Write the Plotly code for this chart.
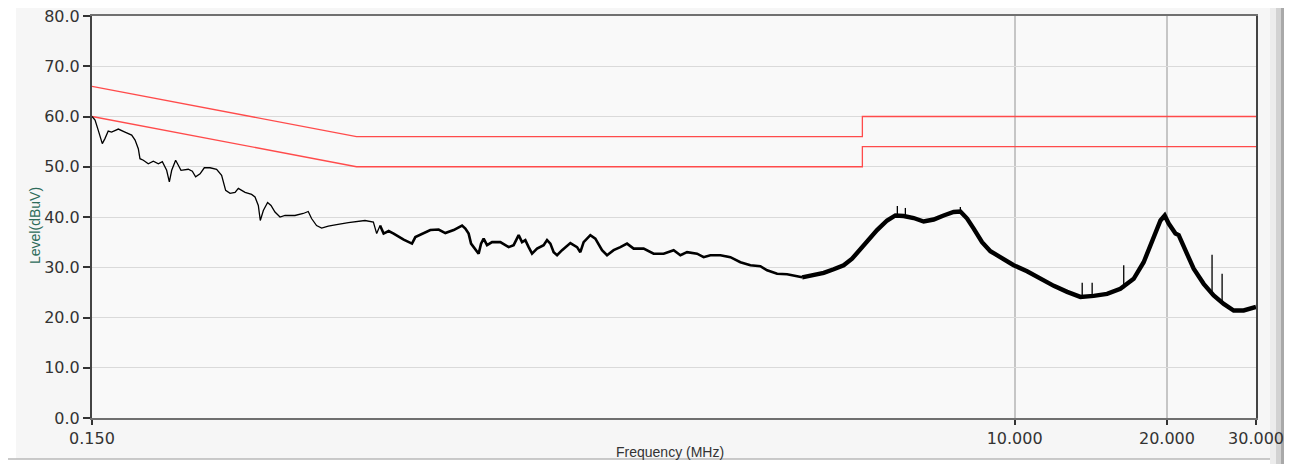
import plotly.graph_objects as go

# ---------------- data ----------------
# measured trace, low band (thin line)
freq_low = [0.150, 0.1521, 0.1543, 0.1572, 0.1591, 0.1615, 0.1640, 0.1691, 0.1743, 0.1797,
            0.1825, 0.1852, 0.1866, 0.1895, 0.1938, 0.1983, 0.2029, 0.2066, 0.2107, 0.2133,
            0.2156, 0.2195, 0.2222, 0.2249, 0.2325, 0.2368, 0.2404, 0.2453, 0.2501, 0.2567,
            0.2645, 0.2706, 0.2756, 0.2812, 0.2877, 0.2920, 0.3011, 0.3102, 0.3150, 0.3198,
            0.3227, 0.3272, 0.3336, 0.3388, 0.3450, 0.3530, 0.3611, 0.3779, 0.3924, 0.4014,
            0.4075, 0.4169, 0.4266, 0.4398, 0.4567, 0.4818, 0.5197, 0.5399, 0.5481, 0.5566]
level_low = [60.0, 59.3, 57.3, 54.6, 55.6, 57.1, 56.9, 57.5, 56.9, 56.3,
             55.3, 53.6, 51.6, 51.3, 50.6, 51.1, 50.6, 51.0, 49.3, 47.0,
             49.3, 51.3, 50.3, 49.3, 49.5, 49.1, 48.0, 48.6, 49.8, 49.8,
             49.5, 48.3, 45.3, 44.7, 44.9, 45.7, 44.9, 44.5, 44.0, 42.3,
             39.3, 41.3, 42.9, 42.3, 41.0, 40.0, 40.3, 40.3, 40.7, 41.1,
             39.7, 38.3, 37.8, 38.2, 38.5, 38.9, 39.3, 39.0, 36.7, 38.3]

# measured trace, mid band (medium line)
freq_mid = [0.5566, 0.5657, 0.5788, 0.5921, 0.6197, 0.6437, 0.6536, 0.6787, 0.6997, 0.7266,
            0.7492, 0.7780, 0.8085, 0.8206, 0.8330, 0.8422, 0.8588, 0.8718, 0.8814, 0.8919,
            0.9058, 0.9266, 0.9623, 0.9993, 1.0224, 1.0459, 1.0622, 1.0782, 1.0947, 1.1117,
            1.1373, 1.1719, 1.1902, 1.2084, 1.2267, 1.2458, 1.2745, 1.3235, 1.3644, 1.3850,
            1.4060, 1.4495, 1.4829, 1.5287, 1.5640, 1.6116, 1.6616, 1.7130, 1.7654, 1.8476,
            1.9338, 2.0236, 2.1180, 2.1839, 2.2513, 2.3563, 2.4280, 2.5035, 2.6201, 2.7416,
            2.8698, 3.0036, 3.1433, 3.2410, 3.3923, 3.5499, 3.7154, 3.8010]
level_mid = [38.3, 36.7, 37.2, 36.7, 35.5, 34.7, 36.0, 36.7, 37.4, 37.5,
             36.8, 37.4, 38.3, 37.7, 36.7, 34.7, 33.7, 32.7, 34.7, 35.7,
             34.4, 35.0, 35.0, 34.0, 34.4, 36.4, 35.0, 35.4, 34.0, 32.7,
             33.7, 34.4, 35.4, 34.7, 33.0, 32.4, 33.4, 34.8, 34.0, 33.0,
             35.0, 36.4, 35.7, 33.4, 32.4, 33.4, 34.0, 34.7, 33.7, 33.7,
             32.7, 32.7, 33.4, 32.4, 33.0, 32.7, 32.0, 32.4, 32.4, 32.0,
             31.0, 30.4, 30.2, 29.4, 28.7, 28.6, 28.2, 28.0]

# measured trace, high band (dense, thick)
freq_high = [3.8010, 4.0065, 4.1934, 4.3880, 4.5920, 4.7707, 4.9545, 5.1455, 5.3456, 5.5954,
             5.8106, 6.0340, 6.3154, 6.6084, 6.9166, 7.2388, 7.5746, 7.8104, 8.0538, 8.2985,
             8.6213, 8.9536, 9.4454, 9.956, 10.58, 11.24, 11.95, 12.70, 13.49, 14.33,
             15.23, 16.18, 17.19, 17.99, 18.70, 19.42, 19.80, 20.16, 20.79, 21.10,
             21.75, 22.59, 23.64, 24.74, 25.90, 27.10, 28.36, 30.0]
level_high = [28.0, 28.4, 28.9, 29.6, 30.4, 31.7, 33.7, 35.7, 37.4, 39.3,
              40.3, 40.2, 39.8, 39.1, 39.5, 40.3, 41.0, 41.1, 39.7, 37.7,
              35.0, 33.2, 31.7, 30.4, 29.2, 27.7, 26.3, 25.1, 24.1, 24.3,
              24.7, 25.7, 27.7, 31.0, 35.0, 39.3, 40.3, 38.7, 36.7, 36.4,
              33.4, 29.7, 26.7, 24.4, 22.7, 21.4, 21.4, 22.1]

# narrow spikes on top of the trace
spike_freq = [5.863, 6.081, 7.81, 13.60, 14.23, 16.43, 24.56, 25.71]
spike_base = [40.2, 40.2, 41.0, 24.2, 24.3, 25.8, 24.6, 23.0]
spike_top = [42.2, 41.8, 42.0, 26.9, 26.9, 30.4, 32.5, 28.7]

# limit lines
limit_freq = [0.15, 0.5, 5.0, 5.0, 30.0]
limit_qp = [66.0, 56.0, 56.0, 60.0, 60.0]
limit_av = [60.0, 50.0, 50.0, 54.0, 54.0]

x_tickvals = [0.15, 10, 20, 30]
x_ticktext = ["0.150", "10.000", "20.000", "30.000"]
y_tickvals = [0, 10, 20, 30, 40, 50, 60, 70, 80]

# ---------------- figure ----------------
fig = go.Figure()

red = "#ff4b4b"
fig.add_trace(go.Scatter(x=limit_freq, y=limit_qp, mode="lines",
                         line=dict(color=red, width=1.3), hoverinfo="skip"))
fig.add_trace(go.Scatter(x=limit_freq, y=limit_av, mode="lines",
                         line=dict(color=red, width=1.3), hoverinfo="skip"))

fig.add_trace(go.Scatter(x=freq_low, y=level_low, mode="lines",
                         line=dict(color="#000000", width=1.3)))
fig.add_trace(go.Scatter(x=freq_mid, y=level_mid, mode="lines",
                         line=dict(color="#000000", width=2.6)))
fig.add_trace(go.Scatter(x=freq_high, y=level_high, mode="lines",
                         line=dict(color="#000000", width=4.4)))

sx, sy = [], []
for f, b, t in zip(spike_freq, spike_base, spike_top):
    sx += [f, f, None]
    sy += [b, t, None]
fig.add_trace(go.Scatter(x=sx, y=sy, mode="lines",
                         line=dict(color="#000000", width=1.3)))

# page body has an 8px offset; plot area on screen: x 92..1256, y 16..418
OFF = 8
W, H = 1292, 464
L, R, T, B = 84, 44, 8, 54
pw, ph = W - L - R, H - T - B


def px(sxp):
    return (sxp - OFF - L) / pw


def py(syp):
    return (H - B - (syp - OFF)) / ph


shapes = [
    # white left strip
    dict(type="rect", xref="paper", yref="paper", x0=px(0), x1=px(16), y0=py(0), y1=py(480),
         fillcolor="#ffffff", line=dict(width=0), layer="below"),
    # bottom border line + white strip
    dict(type="rect", xref="paper", yref="paper", x0=px(0), x1=px(1300), y0=py(459), y1=py(480),
         fillcolor="#ffffff", line=dict(width=0), layer="below"),
    dict(type="line", xref="paper", yref="paper", x0=px(0), x1=px(1272), y0=py(459), y1=py(459),
         line=dict(color="#b8b8b8", width=1.5), layer="below"),
    # right scroll-bar like gradient
    dict(type="rect", xref="paper", yref="paper", x0=px(1270), x1=px(1276), y0=py(7), y1=py(480),
         fillcolor="#ececec", line=dict(width=0), layer="below"),
    dict(type="rect", xref="paper", yref="paper", x0=px(1276), x1=px(1281), y0=py(7), y1=py(480),
         fillcolor="#d2d2d2", line=dict(width=0), layer="below"),
    dict(type="rect", xref="paper", yref="paper", x0=px(1281), x1=px(1286), y0=py(7), y1=py(480),
         fillcolor="#a9a9a9", line=dict(width=0), layer="below"),
    dict(type="rect", xref="paper", yref="paper", x0=px(1286), x1=px(1300), y0=py(7), y1=py(480),
         fillcolor="#c4c4c4", line=dict(width=0), layer="below"),
]

tickfont = dict(family="DejaVu Sans", size=16, color="#333333")

fig.update_layout(
    width=W, height=H,
    margin=dict(l=L, r=R, t=T, b=B, autoexpand=False),
    paper_bgcolor="#f6f6f6",
    plot_bgcolor="#f9f9f9",
    showlegend=False,
    shapes=shapes,
    xaxis=dict(type="log", range=[-0.8239, 1.4771], automargin=False,
               tickvals=x_tickvals, ticktext=x_ticktext, ticklabeloverflow="allow",
               showgrid=True, gridcolor="#c6c6c6", gridwidth=1.5,
               showline=True, linecolor="#707070", linewidth=1.5, mirror=True,
               ticks="outside", ticklen=5, tickcolor="#333333", tickwidth=1.5,
               tickfont=tickfont, zeroline=False),
    yaxis=dict(range=[0, 80], tickvals=y_tickvals, tickformat=".1f", automargin=False,
               ticklabeloverflow="allow",
               showgrid=True, gridcolor="#dadada", gridwidth=1,
               showline=True, linecolor="#444444", linewidth=2, mirror=True,
               ticks="outside", ticklen=7, tickcolor="#333333", tickwidth=1.5,
               tickfont=tickfont, zeroline=False),
    annotations=[
        dict(text="Level(dBuV)", xref="paper", yref="paper", x=px(25), y=py(226),
             textangle=-90, showarrow=False,
             font=dict(family="Liberation Sans", size=14, color="#2d6b5a")),
        dict(text="Frequency (MHz)", xref="paper", yref="paper", x=px(670), y=py(452),
             showarrow=False, yanchor="middle",
             font=dict(family="Liberation Sans", size=14, color="#333333")),
    ],
)

fig.write_html("out.html")
